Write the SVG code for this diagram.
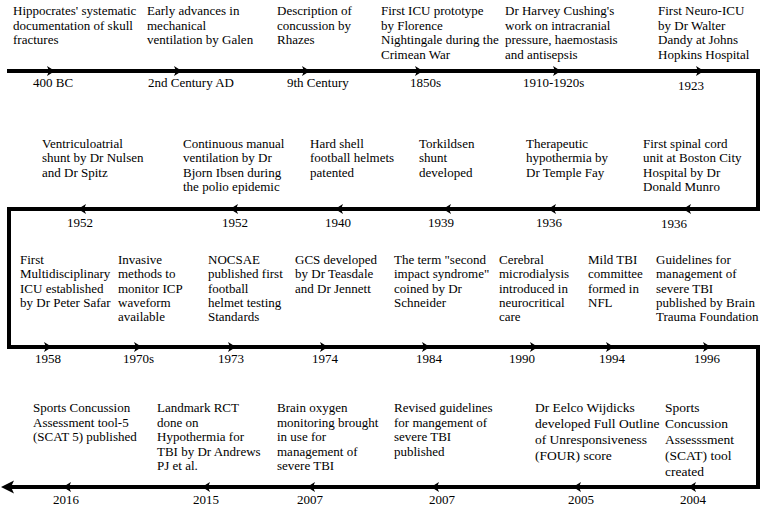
<svg xmlns="http://www.w3.org/2000/svg" xmlns:xlink="http://www.w3.org/1999/xlink" width="762" height="506" viewBox="0 0 762 506">
<style>
text{font-family:"Liberation Serif","Times New Roman",serif;font-size:13px;fill:#000}
.big{font-size:13.5px}
.line{fill:none;stroke:#000;stroke-width:4;stroke-linejoin:miter}
</style>
<defs>
<path id="tr" d="M0,0 L-8,-5 L-6,0 L-8,5 Z" fill="#000"/>
<path id="tl" d="M0,0 L8,-5 L6,0 L8,5 Z" fill="#000"/>
</defs>
<rect width="762" height="506" fill="#fff"/>
<g id="connectors">
<path class="line" d="M7,71 H758 V209 H9 V347 H758 V487 H8"/>
<path d="M1,487 L14,480.5 L11,487 L14,493.5 Z" fill="#000"/>
<use xlink:href="#tr" x="55" y="71"/><use xlink:href="#tr" x="182" y="71"/><use xlink:href="#tr" x="310" y="71"/><use xlink:href="#tr" x="423" y="71"/><use xlink:href="#tr" x="561" y="71"/><use xlink:href="#tr" x="704" y="71"/>
<use xlink:href="#tl" x="78" y="209"/><use xlink:href="#tl" x="230" y="209"/><use xlink:href="#tl" x="335" y="209"/><use xlink:href="#tl" x="443" y="209"/><use xlink:href="#tl" x="548" y="209"/><use xlink:href="#tl" x="683" y="209"/>
<use xlink:href="#tr" x="52" y="347"/><use xlink:href="#tr" x="142" y="347"/><use xlink:href="#tr" x="236" y="347"/><use xlink:href="#tr" x="328" y="347"/><use xlink:href="#tr" x="430" y="347"/><use xlink:href="#tr" x="538" y="347"/><use xlink:href="#tr" x="614" y="347"/><use xlink:href="#tr" x="711" y="347"/>
<use xlink:href="#tl" x="63" y="487"/><use xlink:href="#tl" x="202" y="487"/><use xlink:href="#tl" x="307" y="487"/><use xlink:href="#tl" x="431" y="487"/><use xlink:href="#tl" x="573" y="487"/><use xlink:href="#tl" x="688" y="487"/>
</g>
<g id="e1"><text x="13" y="15"><tspan x="13">Hippocrates' systematic</tspan><tspan x="13" dy="14.6">documentation of skull</tspan><tspan x="13" dy="14.6">fractures</tspan></text><text x="33" y="87">400 BC</text></g>
<g id="e2"><text x="147" y="15"><tspan x="147">Early advances in</tspan><tspan x="147" dy="14.6">mechanical</tspan><tspan x="147" dy="14.6">ventilation by Galen</tspan></text><text x="148" y="87">2nd Century AD</text></g>
<g id="e3"><text x="277" y="15"><tspan x="277">Description of</tspan><tspan x="277" dy="14.6">concussion by</tspan><tspan x="277" dy="14.6">Rhazes</tspan></text><text x="287" y="87">9th Century</text></g>
<g id="e4"><text x="381" y="15"><tspan x="381">First ICU prototype</tspan><tspan x="381" dy="14.6">by Florence</tspan><tspan x="381" dy="14.6">Nightingale during the</tspan><tspan x="381" dy="14.6">Crimean War</tspan></text><text x="410" y="87">1850s</text></g>
<g id="e5"><text x="505" y="15"><tspan x="505">Dr Harvey Cushing's</tspan><tspan x="505" dy="14.6">work on intracranial</tspan><tspan x="505" dy="14.6">pressure, haemostasis</tspan><tspan x="505" dy="14.6">and antisepsis</tspan></text><text x="523" y="87">1910-1920s</text></g>
<g id="e6"><text x="658" y="15"><tspan x="658">First Neuro-ICU</tspan><tspan x="658" dy="14.6">by Dr Walter</tspan><tspan x="658" dy="14.6">Dandy at Johns</tspan><tspan x="658" dy="14.6">Hopkins Hospital</tspan></text><text x="678" y="90">1923</text></g>
<g id="e7"><text x="42" y="147.5"><tspan x="42">Ventriculoatrial</tspan><tspan x="42" dy="14.6">shunt by Dr Nulsen</tspan><tspan x="42" dy="14.6">and Dr Spitz</tspan></text><text x="67" y="227">1952</text></g>
<g id="e8"><text x="183" y="147.5"><tspan x="183">Continuous manual</tspan><tspan x="183" dy="14.6">ventilation by Dr</tspan><tspan x="183" dy="14.6">Bjorn Ibsen during</tspan><tspan x="183" dy="14.6">the polio epidemic</tspan></text><text x="222" y="227">1952</text></g>
<g id="e9"><text x="310" y="147.5"><tspan x="310">Hard shell</tspan><tspan x="310" dy="14.6">football helmets</tspan><tspan x="310" dy="14.6">patented</tspan></text><text x="325" y="227">1940</text></g>
<g id="e10"><text x="419" y="147.5"><tspan x="419">Torkildsen</tspan><tspan x="419" dy="14.6">shunt</tspan><tspan x="419" dy="14.6">developed</tspan></text><text x="428" y="227">1939</text></g>
<g id="e11"><text x="526" y="147.5"><tspan x="526">Therapeutic</tspan><tspan x="526" dy="14.6">hypothermia by</tspan><tspan x="526" dy="14.6">Dr Temple Fay</tspan></text><text x="536" y="227">1936</text></g>
<g id="e12"><text x="643" y="147.5"><tspan x="643">First spinal cord</tspan><tspan x="643" dy="14.6">unit at Boston City</tspan><tspan x="643" dy="14.6">Hospital by Dr</tspan><tspan x="643" dy="14.6">Donald Munro</tspan></text><text x="661" y="228">1936</text></g>
<g id="e13"><text x="20" y="264"><tspan x="20">First</tspan><tspan x="20" dy="14.3">Multidisciplinary</tspan><tspan x="20" dy="14.3">ICU established</tspan><tspan x="20" dy="14.3">by Dr Peter Safar</tspan></text><text x="35" y="363">1958</text></g>
<g id="e14"><text x="118" y="264"><tspan x="118">Invasive</tspan><tspan x="118" dy="14.3">methods to</tspan><tspan x="118" dy="14.3">monitor ICP</tspan><tspan x="118" dy="14.3">waveform</tspan><tspan x="118" dy="14.3">available</tspan></text><text x="123" y="363">1970s</text></g>
<g id="e15"><text x="208" y="264"><tspan x="208">NOCSAE</tspan><tspan x="208" dy="14.3">published first</tspan><tspan x="208" dy="14.3">football</tspan><tspan x="208" dy="14.3">helmet testing</tspan><tspan x="208" dy="14.3">Standards</tspan></text><text x="218" y="363">1973</text></g>
<g id="e16"><text x="295" y="264"><tspan x="295">GCS developed</tspan><tspan x="295" dy="14.3">by Dr Teasdale</tspan><tspan x="295" dy="14.3">and Dr Jennett</tspan></text><text x="312" y="363">1974</text></g>
<g id="e17"><text x="394" y="264"><tspan x="394">The term &quot;second</tspan><tspan x="394" dy="14.3">impact syndrome&quot;</tspan><tspan x="394" dy="14.3">coined by Dr</tspan><tspan x="394" dy="14.3">Schneider</tspan></text><text x="416" y="363">1984</text></g>
<g id="e18"><text x="499" y="264"><tspan x="499">Cerebral</tspan><tspan x="499" dy="14.3">microdialysis</tspan><tspan x="499" dy="14.3">introduced in</tspan><tspan x="499" dy="14.3">neurocritical</tspan><tspan x="499" dy="14.3">care</tspan></text><text x="509" y="363">1990</text></g>
<g id="e19"><text x="588" y="264"><tspan x="588">Mild TBI</tspan><tspan x="588" dy="14.3">committee</tspan><tspan x="588" dy="14.3">formed in</tspan><tspan x="588" dy="14.3">NFL</tspan></text><text x="599" y="363">1994</text></g>
<g id="e20"><text x="656" y="264"><tspan x="656">Guidelines for</tspan><tspan x="656" dy="14.3">management of</tspan><tspan x="656" dy="14.3">severe TBI</tspan><tspan x="656" dy="14.3">published by Brain</tspan><tspan x="656" dy="14.3">Trauma Foundation</tspan></text><text x="694" y="363">1996</text></g>
<g id="e21"><text x="33" y="412"><tspan x="33">Sports Concussion</tspan><tspan x="33" dy="14.6">Assessment tool-5</tspan><tspan x="33" dy="14.6">(SCAT 5) published</tspan></text><text x="53" y="504">2016</text></g>
<g id="e22"><text x="157" y="412"><tspan x="157">Landmark RCT</tspan><tspan x="157" dy="14.6">done on</tspan><tspan x="157" dy="14.6">Hypothermia for</tspan><tspan x="157" dy="14.6">TBI by Dr Andrews</tspan><tspan x="157" dy="14.6">PJ et al.</tspan></text><text x="193" y="504">2015</text></g>
<g id="e23"><text x="277" y="412"><tspan x="277">Brain oxygen</tspan><tspan x="277" dy="14.6">monitoring brought</tspan><tspan x="277" dy="14.6">in use for</tspan><tspan x="277" dy="14.6">management of</tspan><tspan x="277" dy="14.6">severe TBI</tspan></text><text x="297" y="504">2007</text></g>
<g id="e24"><text x="394" y="412"><tspan x="394">Revised guidelines</tspan><tspan x="394" dy="14.6">for mangement of</tspan><tspan x="394" dy="14.6">severe TBI</tspan><tspan x="394" dy="14.6">published</tspan></text><text x="429" y="504">2007</text></g>
<g id="e25"><text class="big" x="535" y="412"><tspan x="535">Dr Eelco Wijdicks</tspan><tspan x="535" dy="16">developed Full Outline</tspan><tspan x="535" dy="16">of Unresponsiveness</tspan><tspan x="535" dy="16">(FOUR) score</tspan></text><text x="568" y="504">2005</text></g>
<g id="e26"><text class="big" x="665" y="412"><tspan x="665">Sports</tspan><tspan x="665" dy="16">Concussion</tspan><tspan x="665" dy="16">Assesssment</tspan><tspan x="665" dy="16">(SCAT) tool</tspan><tspan x="665" dy="16">created</tspan></text><text x="680" y="504">2004</text></g>
</svg>
